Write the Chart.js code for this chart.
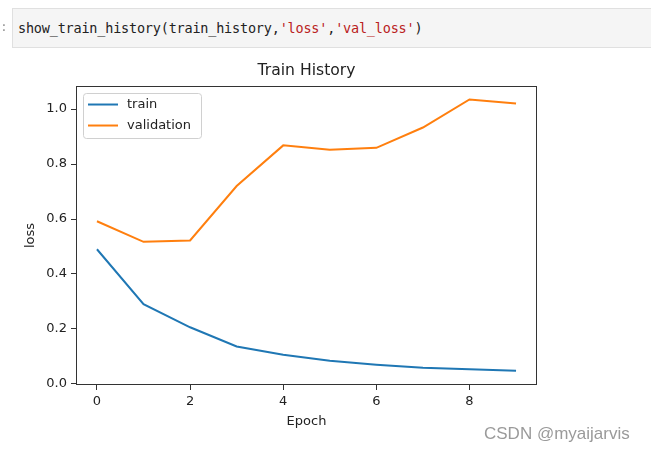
<!DOCTYPE html>
<html>
<head>
<meta charset="utf-8">
<script src="https://cdn.jsdelivr.net/npm/chart.js@4/dist/chart.umd.min.js"></script>
<style>
  html, body { margin: 0; padding: 0; background: #fff; }
  body { width: 651px; height: 453px; position: relative; overflow: hidden; }
  .wrap { position: absolute; left: 0; top: 0; width: 651px; height: 453px; }
  .prompt { position: absolute; left: 0; top: 19px; font: 13px "DejaVu Sans Mono", monospace; color: #999; }
  .cell {
    position: absolute; left: 12px; top: 8px; width: 660px; height: 38px;
    background: #f5f5f5; border: 1px solid #e0e0e0;
    font: 13.5px "DejaVu Sans Mono", monospace; letter-spacing: -0.2px;
    color: #222; line-height: 39px; padding-left: 5px; box-sizing: content-box;
  }
  .cell .s { color: #ba2121; }
  .mark { position: absolute; left: 484px; top: 425px; font: 17px "Liberation Sans", Arial, sans-serif; line-height: 17px; color: #9a9a9a; }
</style>
</head>
<body>
<div class="wrap"><canvas id="myChart"></canvas></div>
<div class="prompt">:</div>
<div class="cell">show_train_history(train_history,<span class="s">'loss'</span>,<span class="s">'val_loss'</span>)</div>
<div class="mark">CSDN @myaijarvis</div>

<script>
// values
const epochs = [0, 1, 2, 3, 4, 5, 6, 7, 8, 9];
const trainLoss = [0.49, 0.29, 0.206, 0.136, 0.106, 0.084, 0.07, 0.059, 0.053, 0.048];
const valLoss = [0.592, 0.517, 0.522, 0.72, 0.868, 0.852, 0.859, 0.933, 1.035, 1.02];
const xTicks = [0, 2, 4, 6, 8];
const yTicks = [0, 0.2, 0.4, 0.6, 0.8, 1.0];

const FONT = "'DejaVu Sans', sans-serif";
const INK = "#222";

// box round the plot (matplotlib spines)
const spines = {
    id: "spines",
    afterDatasetsDraw(chart) {
        const a = chart.chartArea;
        const c = chart.ctx;
        c.save();
        c.strokeStyle = "#333";
        c.lineWidth = 1;
        c.strokeRect(Math.round(a.left) + 0.5, Math.round(a.top) + 0.5,
            Math.round(a.right - a.left) - 1, Math.round(a.bottom - a.top) - 1);
        c.restore();
    }
};

// matplotlib style legend in upper left
const boxLegend = {
    id: "boxLegend",
    afterDatasetsDraw(chart) {
        const a = chart.chartArea;
        const c = chart.ctx;
        const x = a.left + 7, y = a.top + 7, w = 118, h = 45, r = 3;
        c.save();
        c.beginPath();
        c.roundRect(x + 0.5, y + 0.5, w, h, r);
        c.fillStyle = "rgba(255,255,255,0.8)";
        c.fill();
        c.strokeStyle = "#d0d0d0";
        c.lineWidth = 1;
        c.stroke();
        c.font = "13px " + FONT;
        c.textBaseline = "middle";
        chart.data.datasets.forEach((ds, i) => {
            const ry = y + 11.5 + i * 21;
            c.strokeStyle = ds.borderColor;
            c.lineWidth = 2;
            c.beginPath();
            c.moveTo(x + 5, ry);
            c.lineTo(x + 35, ry);
            c.stroke();
            c.fillStyle = INK;
            c.fillText(ds.label, x + 44, ry);
        });
        c.restore();
    }
};

const ctx = document.getElementById("myChart").getContext("2d");
new Chart(ctx, {
    type: "line",
    data: {
        datasets: [
            {
                label: "train",
                data: epochs.map((e, i) => ({ x: e, y: trainLoss[i] })),
                borderColor: "#1f77b4",
                borderWidth: 2,
                pointRadius: 0,
                tension: 0
            },
            {
                label: "validation",
                data: epochs.map((e, i) => ({ x: e, y: valLoss[i] })),
                borderColor: "#ff7f0e",
                borderWidth: 2,
                pointRadius: 0,
                tension: 0
            }
        ]
    },
    options: {
        responsive: true,
        maintainAspectRatio: false,
        animation: false,
        layout: { padding: { left: 0, right: 114, top: 58, bottom: 0 } },
        plugins: {
            legend: { display: false },
            tooltip: { enabled: false },
            title: {
                display: true,
                text: "Train History",
                fullSize: false,
                color: INK,
                font: { family: FONT, size: 15.6, weight: "normal" },
                padding: { top: 4, bottom: 5.3 }
            }
        },
        scales: {
            x: {
                type: "linear",
                min: -0.45,
                max: 9.45,
                afterFit: (s) => { s.height = 68; },
                afterBuildTicks: (s) => { s.ticks = xTicks.map(v => ({ value: v })); },
                border: { display: false },
                grid: { drawOnChartArea: false, drawTicks: true, tickLength: 5, color: "#333" },
                ticks: {
                    color: INK, padding: 4, maxRotation: 0,
                    font: { family: FONT, size: 13 },
                    callback: (v) => String(v)
                },
                title: {
                    display: true, text: "Epoch", color: INK,
                    font: { family: FONT, size: 13 },
                    padding: { top: 0, bottom: 24 }
                }
            },
            y: {
                min: -0.004,
                max: 1.084,
                afterFit: (s) => { s.width = 76; },
                afterBuildTicks: (s) => { s.ticks = yTicks.map(v => ({ value: v })); },
                border: { display: false },
                grid: { drawOnChartArea: false, drawTicks: true, tickLength: 5, color: "#333" },
                ticks: {
                    color: INK, padding: 4,
                    font: { family: FONT, size: 13 },
                    callback: (v) => v.toFixed(1)
                },
                title: {
                    display: true, text: "loss", color: INK,
                    font: { family: FONT, size: 13 },
                    padding: { top: 23, bottom: 0 }
                }
            }
        }
    },
    plugins: [spines, boxLegend]
});
</script>
</body>
</html>
